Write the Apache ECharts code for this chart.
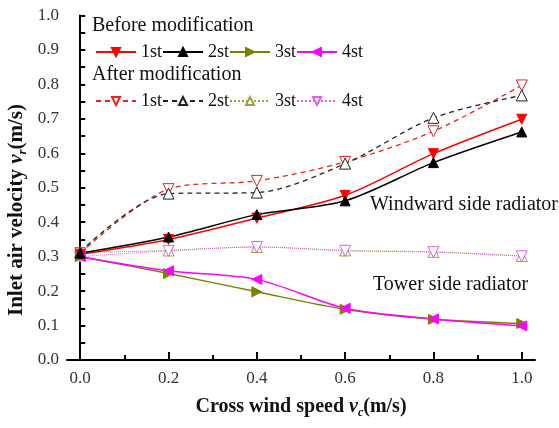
<!DOCTYPE html>
<html><head><meta charset="utf-8">
<script src="https://cdn.jsdelivr.net/npm/echarts@6/dist/echarts.min.js"></script>
<style>html,body{margin:0;padding:0;background:#fff}#c{width:559px;height:428px}</style>
</head><body><div id="c"></div>
<script>
const windSpeed = [0.0, 0.2, 0.4, 0.6, 0.8, 1.0];
const before1 = [0.307, 0.350, 0.412, 0.478, 0.599, 0.699];
const before2 = [0.310, 0.357, 0.422, 0.462, 0.573, 0.662];
const before3 = [0.300, 0.251, 0.198, 0.147, 0.118, 0.106];
const before4 = [0.300, 0.259, 0.234, 0.150, 0.119, 0.099];
const after1 = [0.310, 0.496, 0.520, 0.575, 0.664, 0.797];
const after2 = [0.314, 0.483, 0.486, 0.570, 0.703, 0.768];
const after3 = [0.312, 0.318, 0.328, 0.318, 0.314, 0.302];
const after4 = [0.300, 0.317, 0.328, 0.317, 0.313, 0.301];
const xMajorTicks = [0, 0.2, 0.4, 0.6, 0.8, 1.0];
const xMinorTicks = [0.1, 0.3, 0.5, 0.7, 0.9];
const legendLabels = {b1:'1st', b2:'2st', b3:'3st', b4:'4st', a1:'1st', a2:'2st', a3:'3st', a4:'4st'};

const FONT = 'Liberation Serif';
const pts = arr => windSpeed.map((x, i) => [x, arr[i]]);

function solid(name, data, color, rot) {
  return {
    name, type: 'line', data: pts(data), smooth: 0.3,
    symbol: 'triangle', symbolSize: 10, symbolRotate: rot,
    lineStyle: {color, width: 1.5}, itemStyle: {color, borderColor: color, borderWidth: 1},
    z: 3
  };
}
function open(name, data, color, rot, dash, width) {
  return {
    name, type: 'line', data: pts(data), smooth: 0.3,
    symbol: 'triangle', symbolSize: 11, symbolRotate: rot,
    lineStyle: {color, width: width, type: dash},
    itemStyle: {color: '#fff', borderColor: color, borderWidth: 1},
    z: 2
  };
}

const chart = echarts.init(document.getElementById('c'), null, {renderer: 'canvas'});
chart.setOption({
  animation: false,
  backgroundColor: '#fff',
  grid: {left: 67, right: 24, top: 15.5, bottom: 68, containLabel: false},
  xAxis: [{
    type: 'value', min: -0.03, max: 1.03,
    axisLine: {show: true, lineStyle: {color: '#000', width: 2}},
    axisTick: {show: true, inside: true, length: 8, lineStyle: {color: '#000', width: 2}, customValues: xMajorTicks},
    axisLabel: {show: true, customValues: xMajorTicks, formatter: v => v.toFixed(1), fontFamily: FONT, fontSize: 17, color: '#333', margin: 10},
    splitLine: {show: false}
  }, {
    type: 'value', min: -0.03, max: 1.03, position: 'bottom',
    axisLine: {show: false},
    axisTick: {show: true, inside: true, length: 5, lineStyle: {color: '#000', width: 2}, customValues: xMinorTicks},
    axisLabel: {show: false},
    splitLine: {show: false}
  }],
  yAxis: {
    type: 'value', min: 0, max: 1, interval: 0.1,
    axisLine: {show: true, lineStyle: {color: '#000', width: 2}},
    axisTick: {show: true, inside: true, length: 5, lineStyle: {color: '#000', width: 2}},
    minorTick: {show: true, splitNumber: 2, length: 5, lineStyle: {color: '#000', width: 2}},
    axisLabel: {formatter: v => v.toFixed(1), fontFamily: FONT, fontSize: 17, color: '#333', margin: 8},
    splitLine: {show: false}
  },
  legend: [{
    data: ['b1', 'b2', 'b3', 'b4'], left: 90, top: 38, orient: 'horizontal',
    itemWidth: 40, itemHeight: 10, itemGap: 0,
    formatter: n => legendLabels[n],
    textStyle: {fontFamily: FONT, fontSize: 18, color: '#111', padding: [0, 0, 0, 0]}
  }, {
    data: ['a1', 'a2', 'a3', 'a4'], left: 90, top: 87, orient: 'horizontal',
    itemWidth: 40, itemHeight: 10, itemGap: 0,
    formatter: n => legendLabels[n],
    textStyle: {fontFamily: FONT, fontSize: 18, color: '#111', padding: [0, 0, 0, 0]}
  }],
  graphic: [
    {type: 'text', left: 92, top: 16, style: {text: 'Before modification', fontFamily: FONT, fontSize: 20, fill: '#111'}},
    {type: 'text', left: 92, top: 65, style: {text: 'After modification', fontFamily: FONT, fontSize: 20, fill: '#111'}},
    {type: 'text', left: 370, top: 195, style: {text: 'Windward side radiator', fontFamily: FONT, fontSize: 20, fill: '#111'}},
    {type: 'text', left: 373, top: 275, style: {text: 'Tower side radiator', fontFamily: FONT, fontSize: 20, fill: '#111'}},
    {type: 'text', x: 301, y: 407, style: {
      text: '{b|Cross wind speed }{i|v}{s|c}{b|(m/s)}', align: 'center', verticalAlign: 'middle',
      rich: {
        b: {fontFamily: FONT, fontSize: 20, fontWeight: 'bold', fill: '#111'},
        i: {fontFamily: FONT, fontSize: 20, fontWeight: 'bold', fontStyle: 'italic', fill: '#111'},
        s: {fontFamily: FONT, fontSize: 12, fontWeight: 'bold', fontStyle: 'italic', fill: '#111', padding: [11, 0, 0, 0]}
      }}},
    {type: 'text', x: 17, y: 210, rotation: Math.PI / 2, style: {
      text: '{b|Inlet air velocity }{i|v}{s|r}{b|(m/s)}', align: 'center', verticalAlign: 'middle',
      rich: {
        b: {fontFamily: FONT, fontSize: 21, fontWeight: 'bold', fill: '#111'},
        i: {fontFamily: FONT, fontSize: 21, fontWeight: 'bold', fontStyle: 'italic', fill: '#111'},
        s: {fontFamily: FONT, fontSize: 13, fontWeight: 'bold', fontStyle: 'italic', fill: '#111', padding: [12, 0, 0, 0]}
      }}}
  ],
  series: [
    open('a3', after3, '#a0a040', 0, 'dotted', 1),
    open('a4', after4, '#e060e0', 180, 'dotted', 1),
    open('a1', after1, '#f02020', 180, [5, 4], 1.3),
    open('a2', after2, '#222', 0, [5, 4], 1.3),
    solid('b3', before3, '#808000', -90),
    solid('b4', before4, '#ff00ff', 90),
    solid('b1', before1, '#ff0000', 180),
    solid('b2', before2, '#000', 0)
  ]
});
</script></body></html>
